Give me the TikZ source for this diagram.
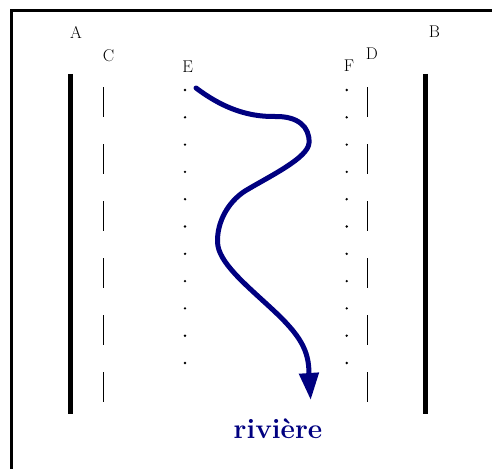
\documentclass[tikz,border=0pt]{standalone}
\usetikzlibrary{arrows.meta}
\definecolor{rivernavy}{RGB}{0,0,128}
\begin{document}
\begin{tikzpicture}[x=1pt,y=-1pt,
  lbl/.style={font=\fontsize{17}{17}\selectfont, inner sep=0pt},
  bank/.style={line width=5pt},
  dashline/.style={line width=1.2pt, dash pattern=on 30pt off 27pt},
  river/.style={rivernavy, line width=5pt, line cap=round, line join=round,
    -{Triangle[length=27pt,width=19pt]}}]
\useasboundingbox (0,0) rectangle (492,468);
\clip (0,0) rectangle (492,468);
% frame (left and top sides visible)
\draw[line width=3pt] (11.5,480) |- (510,11);
% banks
\draw[bank] (70,74) -- (70,414);
\draw[bank] (425.7,74) -- (425.7,414);
% dashed lines
\draw[dashline] (103.3,87.3) -- (103.3,403);
\draw[dashline] (367.3,87.3) -- (367.3,403);
% dotted lines
\foreach \i in {0,...,10}{
  \fill (185,90+27.3*\i) circle (1.3pt);
  \fill (346.7,90+27.3*\i) circle (1.3pt);
}
% labels
\node[lbl] (A) at (76,32) {A};
\node[lbl] (C) at (108.5,56) {C};
\node[lbl] (E) at (187.7,67) {E};
\node[lbl] (F) at (349,66) {F};
\node[lbl] (D) at (372,54) {D};
\node[lbl] (B) at (434.5,32) {B};
% river
\coordinate (rs) at (196,88);
\coordinate (re) at (310.7,400);
\draw[river] (rs) .. controls (220,106) and (245,117) .. (275,116.5)
  .. controls (298,116) and (310,127) .. (309,143)
  .. controls (308,158) and (270,176) .. (245,191)
  .. controls (228,202) and (217,222) .. (217.5,242)
  .. controls (218,262) and (245,284) .. (272,309)
  .. controls (300,335) and (309,350) .. (309,374) -- (re);
\node[font=\fontsize{28}{28}\selectfont\bfseries, text=rivernavy, anchor=base, inner sep=0pt] (riv) at (278,438) {rivière};
\end{tikzpicture}
\end{document}
